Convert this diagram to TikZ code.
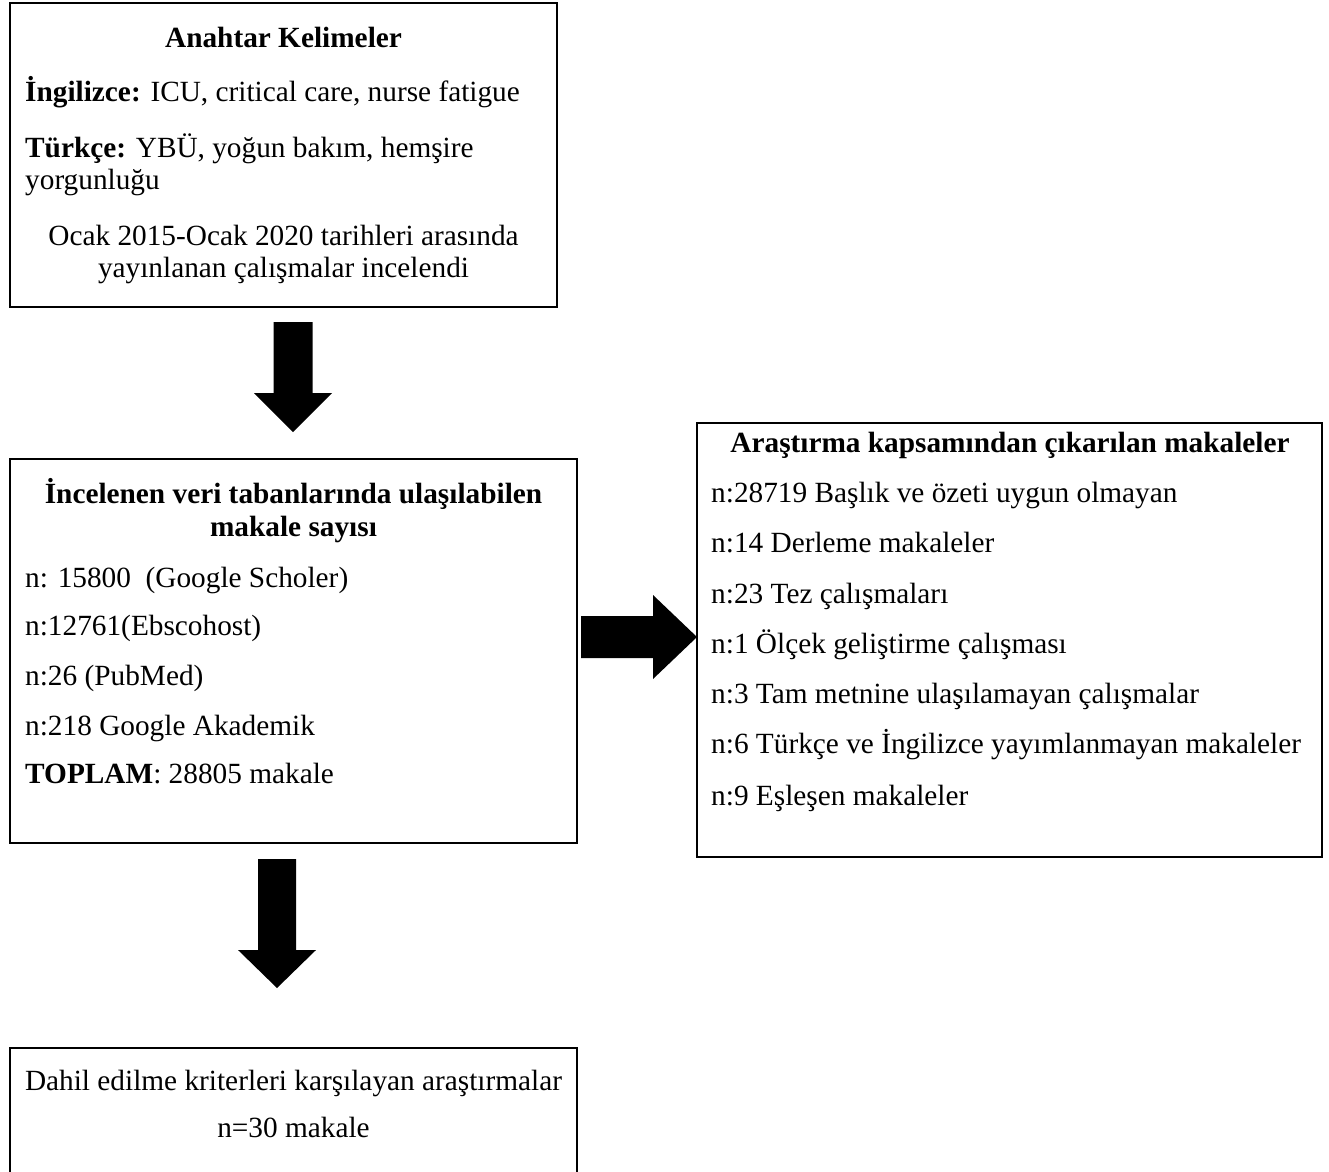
\documentclass[tikz,border=0pt]{standalone}
\usepackage{fontspec}
\setmainfont{Liberation Serif}
\usetikzlibrary{calc}
\begin{document}
\begin{tikzpicture}[x=1pt,y=-1pt,
  box/.style={draw=black,line width=2.6pt,fill=none,inner sep=0pt},
  txt/.style={inner sep=0pt,anchor=base west,font=\fontsize{29.3}{32}\selectfont},
  ctxt/.style={inner sep=0pt,anchor=base,font=\fontsize{29.3}{32}\selectfont},
  blockarrow/.style={fill=black,draw=none}]
\useasboundingbox (0,0) rectangle (1329,1171);
% boxes
\node[box,minimum width=547pt,minimum height=304pt] (b1) at (283.5,155) {};
\node[box,minimum width=567pt,minimum height=384pt] (b2) at (293.5,651) {};
\node[box,minimum width=625pt,minimum height=434pt] (b3) at (1009.5,640) {};
\node[box,minimum width=567pt,minimum height=128pt] (b4) at (293.5,1112) {};
% box 1 text
\node[ctxt] (t1a) at (283.5,47) {\textbf{Anahtar Kelimeler}};
\node[txt] (t1b) at (25,101) {\textbf{İngilizce:} ICU, critical care, nurse fatigue};
\node[txt] (t1c) at (25,157) {\textbf{Türkçe:} YBÜ, yoğun bakım, hemşire};
\node[txt] (t1d) at (25,189) {yorgunluğu};
\node[ctxt] (t1e) at (283.5,245) {Ocak 2015-Ocak 2020 tarihleri arasında};
\node[ctxt] (t1f) at (283.5,277) {yayınlanan çalışmalar incelendi};
% box 2 text
\node[ctxt] (t2a) at (293.5,503) {\textbf{İncelenen veri tabanlarında ulaşılabilen}};
\node[ctxt] (t2b) at (293.5,536) {\textbf{makale sayısı}};
\node[txt] (t2c) at (25,587) {n: 15800\ \ (Google Scholer)};
\node[txt] (t2d) at (25,635) {n:12761(Ebscohost)};
\node[txt] (t2e) at (25,685) {n:26 (PubMed)};
\node[txt] (t2f) at (25,735) {n:218 Google Akademik};
\node[txt] (t2g) at (25,783) {\textbf{TOPLAM}: 28805 makale};
% box 3 text
\node[ctxt] (t3a) at (1010,452) {\textbf{Araştırma kapsamından çıkarılan makaleler}};
\node[txt] (t3b) at (711,502) {n:28719 Başlık ve özeti uygun olmayan};
\node[txt] (t3c) at (711,552) {n:14 Derleme makaleler};
\node[txt] (t3d) at (711,603) {n:23 Tez çalışmaları};
\node[txt] (t3e) at (711,653) {n:1 Ölçek geliştirme çalışması};
\node[txt] (t3f) at (711,703) {n:3 Tam metnine ulaşılamayan çalışmalar};
\node[txt] (t3g) at (711,753) {n:6 Türkçe ve İngilizce yayımlanmayan makaleler};
\node[txt] (t3h) at (711,805) {n:9 Eşleşen makaleler};
% box 4 text
\node[ctxt] (t4a) at (293.5,1090) {Dahil edilme kriterleri karşılayan araştırmalar};
\node[ctxt] (t4b) at (293.5,1137) {n=30 makale};
% block arrows
\coordinate (a1s) at (293,322);
\coordinate (a1e) at (293,432);
\fill[blockarrow] ($(a1s)+(-19.5,0)$) -- ($(a1s)+(19.5,0)$) -- ($(a1e)+(19.5,-39)$) -- ($(a1e)+(39,-39)$)
  -- (a1e) -- ($(a1e)+(-39,-39)$) -- ($(a1e)+(-19.5,-39)$) -- cycle;
\coordinate (a2s) at (581,637);
\coordinate (a2e) at (697,637);
\fill[blockarrow] ($(a2s)+(0,-21)$) -- ($(a2e)+(-44,-21)$) -- ($(a2e)+(-44,-42)$) -- (a2e)
  -- ($(a2e)+(-44,42)$) -- ($(a2e)+(-44,21)$) -- ($(a2s)+(0,21)$) -- cycle;
\coordinate (a3s) at (277,859);
\coordinate (a3e) at (277,988);
\fill[blockarrow] ($(a3s)+(-19,0)$) -- ($(a3s)+(19,0)$) -- ($(a3e)+(19,-38)$) -- ($(a3e)+(39,-38)$)
  -- (a3e) -- ($(a3e)+(-39,-38)$) -- ($(a3e)+(-19,-38)$) -- cycle;
\end{tikzpicture}
\end{document}
